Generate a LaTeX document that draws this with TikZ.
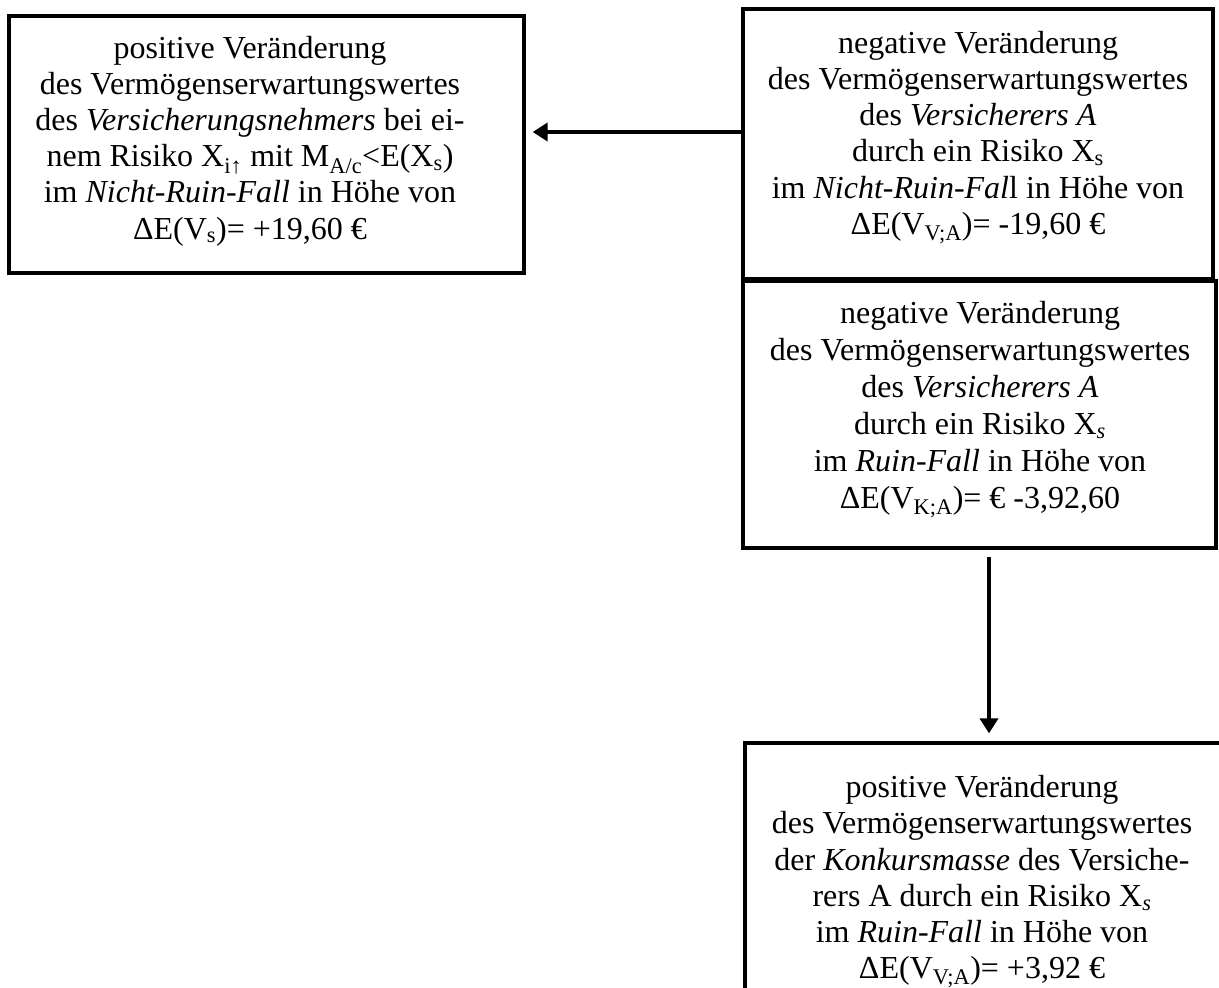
\documentclass[tikz,border=0pt]{standalone}
\usepackage{fontspec}
\setmainfont{Liberation Serif}
\usetikzlibrary{arrows.meta}
\tikzset{
  boxnode/.style={draw=black, line width=3.3pt, rectangle, inner sep=0pt},
  txtnode/.style={align=center, inner sep=0pt, font=\fontsize{32}{36.2}\selectfont},
  txtwide/.style={txtnode, font=\fontsize{32}{37}\selectfont},
  arr/.style={line width=4pt, -{Triangle[length=15pt,width=18pt]}}
}
\begin{document}
\begin{tikzpicture}[x=1pt,y=-1pt]
\useasboundingbox (0,0) rectangle (1219,988);
% boxes
\node[boxnode, minimum width=515pt, minimum height=257pt] (b1) at (266.5,144.5) {};
\node[boxnode, minimum width=470pt, minimum height=270pt] (b2) at (978,144) {};
\node[boxnode, minimum width=473pt, minimum height=267pt] (b3) at (979.5,414.5) {};
\node[boxnode, minimum width=480pt, minimum height=269pt] (b4) at (985,877.5) {};
% texts
\node[txtnode] (t1) at (250,141) {positive Veränderung\\
des Vermögenserwartungswertes\\
des \textit{Versicherungsnehmers} bei ei-\\
nem Risiko X\textsubscript{i↑} mit M\textsubscript{A/c}<E(X\textsubscript{s})\\
im \textit{Nicht-Ruin-Fall} in Höhe von\\
ΔE(V\textsubscript{s})= +19,60 €};
\node[txtnode] (t2) at (978,137.5) {negative Veränderung\\
des Vermögenserwartungswertes\\
des \textit{Versicherers A}\\
durch ein Risiko X\textsubscript{s}\\
im \textit{Nicht-Ruin-Fal}l in Höhe von\\
ΔE(V\textsubscript{V;A})= -19,60 €};
\node[txtwide] (t3) at (980,410) {negative Veränderung\\
des Vermögenserwartungswertes\\
des \textit{Versicherers A}\\
durch ein Risiko X\textsubscript{\textit{s}}\\
im \textit{Ruin-Fall} in Höhe von\\
ΔE(V\textsubscript{K;A})= € -3,92,60};
\node[txtnode] (t4) at (982,882) {positive Veränderung\\
des Vermögenserwartungswertes\\
der \textit{Konkursmasse} des Versiche-\\
rers A durch ein Risiko X\textsubscript{\textit{s}}\\
im \textit{Ruin-Fall} in Höhe von\\
ΔE(V\textsubscript{V;A})= +3,92 €};
% connectors
\draw[arr, shorten >=7pt] ([yshift=12pt]b2.west) -- ([yshift=12pt]b2.west -| b1.east);
\draw[arr, shorten <=7pt, shorten >=8pt] ([xshift=9.5pt]b3.south) -- ([xshift=9.5pt]b3.south |- b4.north);
\end{tikzpicture}
\end{document}
